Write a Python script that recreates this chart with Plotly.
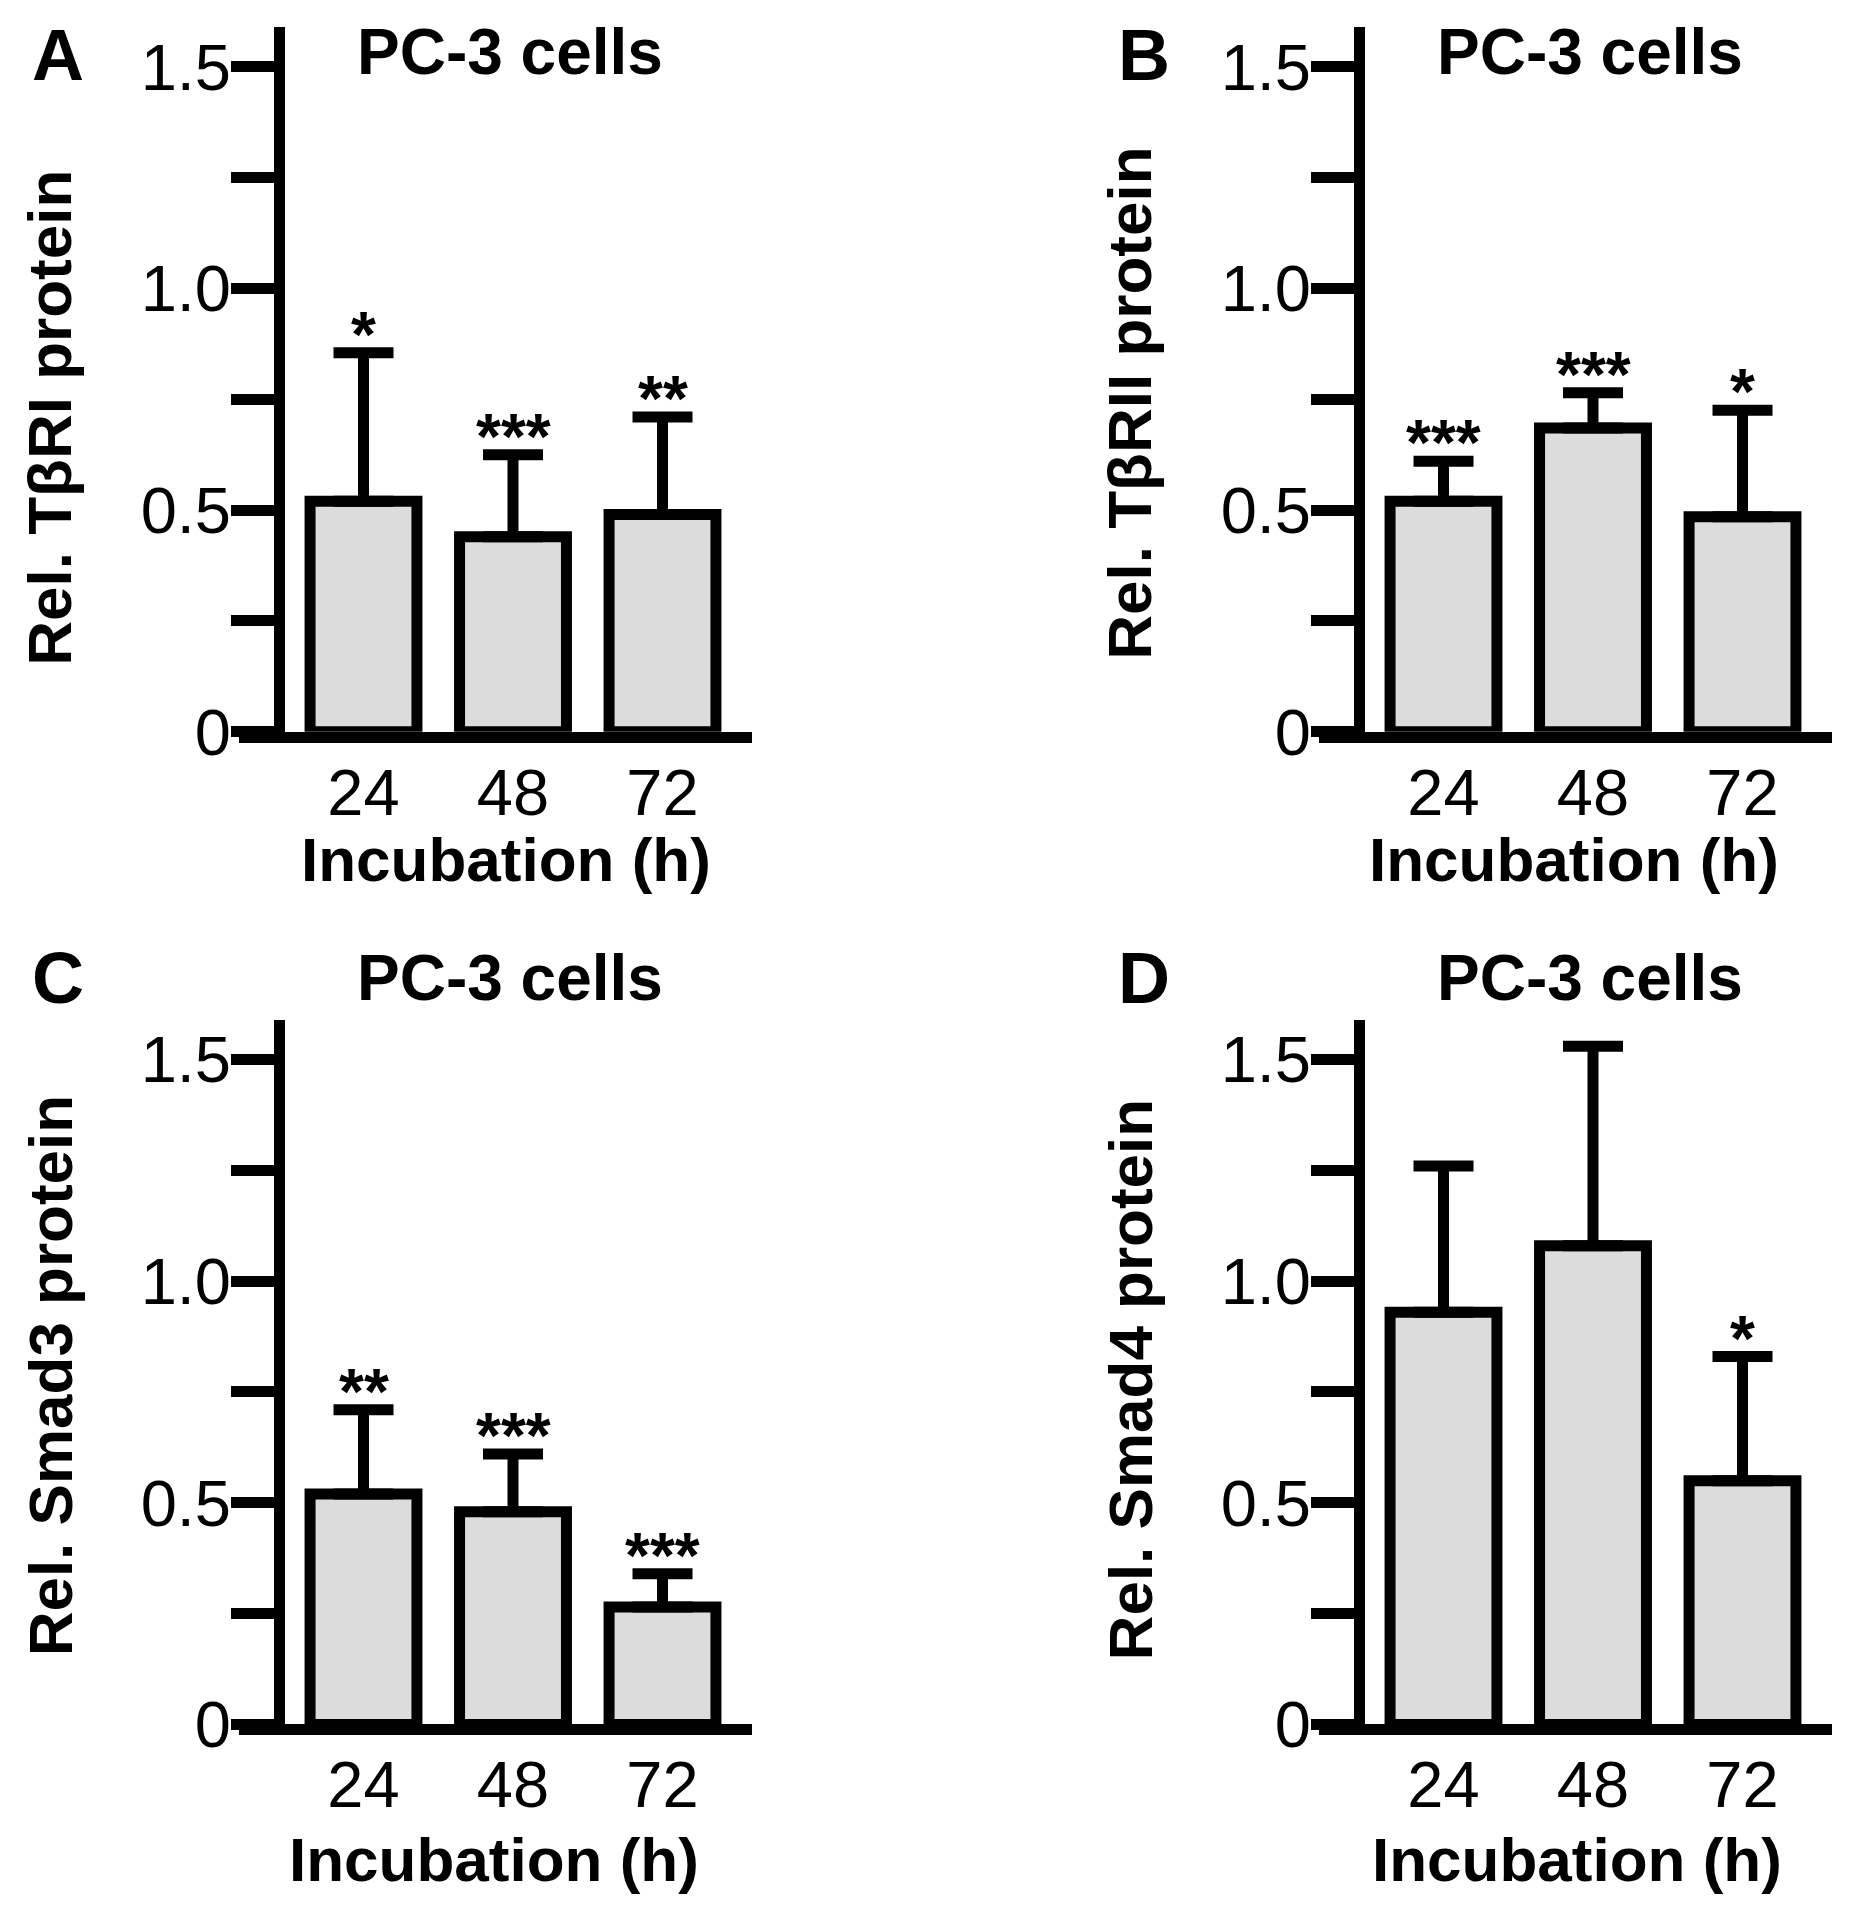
import plotly.graph_objects as go

# page size; positions below are measured on the 1871 x 1912 reference grid
W, H = 1871, 1960
REF_H = 1912
SY = 1.021          # vertical stretch that lines the photographed page up with the reference

hours = ["24", "48", "72"]
x_title = "Incubation (h)"
cell_line = "PC-3 cells"
y_ticks = [0, 0.25, 0.5, 0.75, 1.0, 1.25, 1.5]
y_tick_text = ["0", "", "0.5", "", "1.0", "", "1.5"]

# relative protein levels (mean, SD)
tbr1_mean = [0.52, 0.44, 0.49]
tbr1_sd = [0.335, 0.185, 0.22]
tbr1_sig = ["*", "***", "**"]

tbr2_mean = [0.52, 0.685, 0.485]
tbr2_sd = [0.09, 0.08, 0.24]
tbr2_sig = ["***", "***", "*"]

smad3_mean = [0.52, 0.48, 0.265]
smad3_sd = [0.19, 0.13, 0.075]
smad3_sig = ["**", "***", "***"]

smad4_mean = [0.93, 1.08, 0.55]
smad4_sd = [0.33, 0.45, 0.28]
smad4_sig = ["", "", "*"]

panels = [
    ("A", "Rel. TβRI protein", tbr1_mean, tbr1_sd, tbr1_sig),
    ("B", "Rel. TβRII protein", tbr2_mean, tbr2_sd, tbr2_sig),
    ("C", "Rel. Smad3 protein", smad3_mean, smad3_sd, smad3_sig),
    ("D", "Rel. Smad4 protein", smad4_mean, smad4_sd, smad4_sig),
]

# placement of each panel: y-axis x, zero line y, then text centres (px)
places = [
    dict(ax=279, zero=736, letter=(58, 55), title=(510, 52), ytit=(50, 417), xtit=(506, 858)),
    dict(ax=1359, zero=736, letter=(1144, 55), title=(1590, 52), ytit=(1130, 403), xtit=(1574, 858)),
    dict(ax=279, zero=1727, letter=(58, 976), title=(510, 976), ytit=(50, 1373), xtit=(494, 1856)),
    dict(ax=1359, zero=1727, letter=(1144, 976), title=(1590, 976), ytit=(1130, 1377), xtit=(1577, 1856)),
]

FONT = "Liberation Sans, Arial, sans-serif"
LW = 11
unit_y = 446.0      # px per 1.0
unit_x = 149.5      # px per category
bar0 = 84.5         # px from y-axis to first bar centre
y_top = 1.59
x_lo, x_hi = -0.83, 2.6


def fx(p):
    return p / W


def fy(p):
    return 1 - p * SY / H


fig = go.Figure()
annotations = []
layout = {}

for i, ((letter, ytitle, mean, sd, sig), pl) in enumerate(zip(panels, places), start=1):
    xa = "x" if i == 1 else "x%d" % i
    ya = "y" if i == 1 else "y%d" % i

    fig.add_trace(go.Bar(
        x=hours, y=mean, width=0.715,
        marker=dict(color="#dcdcdc", line=dict(color="black", width=LW)),
        error_y=dict(type="data", symmetric=False, array=sd, arrayminus=[0] * len(sd),
                     color="black", thickness=LW, width=30),
        xaxis=xa, yaxis=ya, showlegend=False,
    ))

    left = pl["ax"] + bar0 + x_lo * unit_x
    right = pl["ax"] + bar0 + x_hi * unit_x
    bottom = pl["zero"] - LW / 2
    top = pl["zero"] - y_top * unit_y

    layout["xaxis" + ("" if i == 1 else str(i))] = dict(
        domain=[fx(left), fx(right)], anchor=ya, range=[x_lo, x_hi],
        type="category", showline=True, linewidth=LW, linecolor="black",
        ticks="", showgrid=False, zeroline=False, ticklabelstandoff=-6,
        tickfont=dict(family=FONT, size=65, color="black"),
    )
    layout["yaxis" + ("" if i == 1 else str(i))] = dict(
        domain=[fy(bottom), fy(top)], anchor="free", position=fx(pl["ax"]),
        range=[0, y_top], showline=True, linewidth=LW, linecolor="black",
        ticks="outside", ticklen=43, tickwidth=LW, tickcolor="black",
        tickvals=y_ticks, ticktext=y_tick_text, ticklabelstandoff=-13,
        showgrid=False, zeroline=False,
        tickfont=dict(family=FONT, size=65, color="black"),
    )

    for k, (m, s, t) in enumerate(zip(mean, sd, sig)):
        if t:
            annotations.append(dict(
                x=k, y=m + s, xref=xa, yref=ya, text=t, showarrow=False,
                yanchor="bottom", yshift=-20,
                font=dict(family=FONT, size=64, color="black", weight="bold"),
            ))

    for key, txt, size, angle in [("letter", letter, 72, 0), ("title", cell_line, 64, 0),
                                  ("ytit", ytitle, 62, -90), ("xtit", x_title, 62, 0)]:
        cx, cy = pl[key]
        annotations.append(dict(
            x=fx(cx), y=fy(cy), xref="paper", yref="paper", text=txt, showarrow=False,
            xanchor="center", yanchor="middle", textangle=angle,
            font=dict(family=FONT, size=size, color="black", weight="bold"),
        ))

fig.update_layout(
    width=W, height=H, margin=dict(l=0, r=0, t=0, b=0),
    paper_bgcolor="white", plot_bgcolor="white",
    annotations=annotations, **layout,
)

# drop the default page margin so the figure sits at the window's top-left corner
fig.write_html("out.html", config={"displayModeBar": False},
               post_script="document.body.style.margin='0px';")
